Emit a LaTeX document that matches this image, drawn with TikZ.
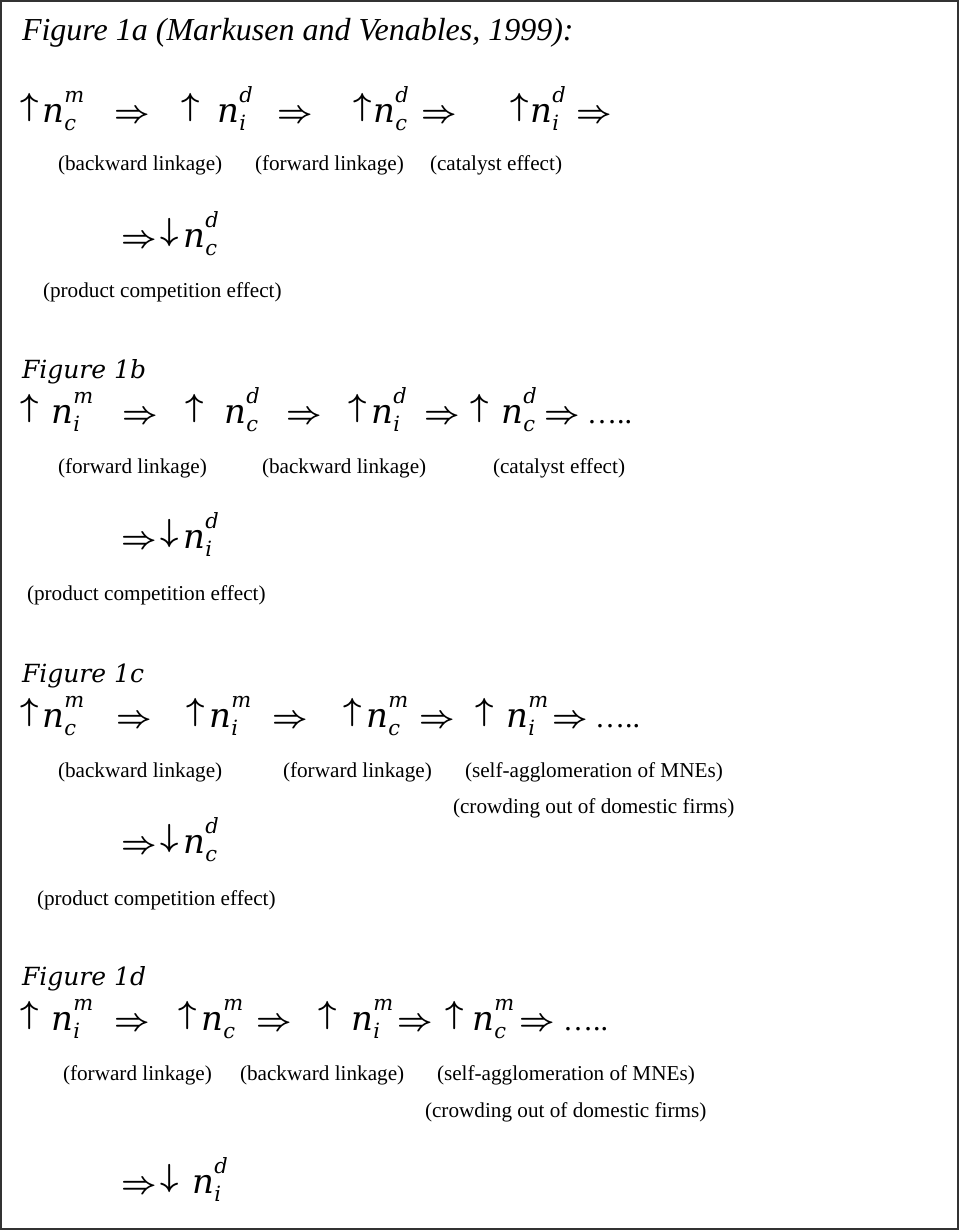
\documentclass[tikz,border=0pt]{standalone}
\usepackage{fontspec}
\usepackage{graphicx}
\setmainfont{Liberation Serif}
\newfontfamily\nfont{DejaVu Serif}
\tikzset{
  t/.style={anchor=base west,inner sep=0pt,outer sep=0pt},
  lab/.style={t,font=\fontsize{21.2bp}{24bp}\selectfont},
  heada/.style={t,font=\fontsize{32bp}{36bp}\selectfont\itshape},
  headb/.style={t,font=\fontsize{25bp}{30bp}\selectfont\nfont\itshape},
  frame/.style={line width=2bp,draw=black!80}
}
\newcommand\UA{\scalebox{3.2}{\raisebox{1.94pt}{\boldmath$\uparrow$}}}
\newcommand\DA{\scalebox{3.2}{\raisebox{1.94pt}{\boldmath$\downarrow$}}}
\newcommand\RA{\scalebox{3.1}{\boldmath$\Rightarrow$}}
\newcommand\SCR{\fontsize{21bp}{24bp}\selectfont\nfont\itshape}
\newcommand\NV[2]{{\fontsize{34bp}{36bp}\selectfont\nfont\itshape n}\kern0.5bp\rlap{\raisebox{-8bp}{\SCR #1}}\raisebox{20bp}{\SCR #2}}
\newcommand\DOTS{{\fontsize{30bp}{32bp}\selectfont …..}}
\newcommand\PlaceAt[4]{\node[t] (#1) at (#2,#3) {#4};}
\begin{document}
\begin{tikzpicture}[x=1bp,y=-1bp]
\useasboundingbox (0,0) rectangle (959,1230);
\draw[frame] (1,1) rectangle (957.5,1228.5);

% ---------- Figure 1a
\node[heada] (h1a) at (22,40) {Figure 1a (Markusen and Venables, 1999):};
\PlaceAt{a1}{20}{122}{\UA}
\PlaceAt{a2}{42}{122}{\NV{c}{m}}
\PlaceAt{a3}{114}{122}{\RA}
\PlaceAt{a4}{181}{122}{\UA}
\PlaceAt{a5}{217}{122}{\NV{i}{d}}
\PlaceAt{a6}{277}{122}{\RA}
\PlaceAt{a7}{353}{122}{\UA}
\PlaceAt{a8}{373}{122}{\NV{c}{d}}
\PlaceAt{a9}{421}{122}{\RA}
\PlaceAt{a10}{510}{122}{\UA}
\PlaceAt{a11}{530}{122}{\NV{i}{d}}
\PlaceAt{a12}{576}{122}{\RA}
\node[lab] (la1) at (58,170) {(backward linkage)};
\node[lab] (la2) at (255,170) {(forward linkage)};
\node[lab] (la3) at (430,170) {(catalyst effect)};
\PlaceAt{a13}{121}{247}{\RA}
\PlaceAt{a14}{160}{247}{\DA}
\PlaceAt{a15}{183}{247}{\NV{c}{d}}
\node[lab] (la4) at (43,297) {(product competition effect)};

% ---------- Figure 1b
\node[headb] (h1b) at (22,378) {Figure 1b};
\PlaceAt{b1}{20}{423}{\UA}
\PlaceAt{b2}{51}{423}{\NV{i}{m}}
\PlaceAt{b3}{122}{423}{\RA}
\PlaceAt{b4}{185}{423}{\UA}
\PlaceAt{b5}{224}{423}{\NV{c}{d}}
\PlaceAt{b6}{286}{423}{\RA}
\PlaceAt{b7}{348}{423}{\UA}
\PlaceAt{b8}{371}{423}{\NV{i}{d}}
\PlaceAt{b9}{424}{423}{\RA}
\PlaceAt{b10}{470}{423}{\UA}
\PlaceAt{b11}{501}{423}{\NV{c}{d}}
\PlaceAt{b12}{544}{423}{\RA}
\PlaceAt{b13}{587}{423}{\DOTS}
\node[lab] (lb1) at (58,473) {(forward linkage)};
\node[lab] (lb2) at (262,473) {(backward linkage)};
\node[lab] (lb3) at (493,473) {(catalyst effect)};
\PlaceAt{b14}{121}{548}{\RA}
\PlaceAt{b15}{160}{548}{\DA}
\PlaceAt{b16}{183}{548}{\NV{i}{d}}
\node[lab] (lb4) at (27,600) {(product competition effect)};

% ---------- Figure 1c
\node[headb] (h1c) at (22,682) {Figure 1c};
\PlaceAt{c1}{20}{727}{\UA}
\PlaceAt{c2}{42}{727}{\NV{c}{m}}
\PlaceAt{c3}{116}{727}{\RA}
\PlaceAt{c4}{186}{727}{\UA}
\PlaceAt{c5}{209}{727}{\NV{i}{m}}
\PlaceAt{c6}{272}{727}{\RA}
\PlaceAt{c7}{343}{727}{\UA}
\PlaceAt{c8}{366}{727}{\NV{c}{m}}
\PlaceAt{c9}{419}{727}{\RA}
\PlaceAt{c10}{475}{727}{\UA}
\PlaceAt{c11}{506}{727}{\NV{i}{m}}
\PlaceAt{c12}{552}{727}{\RA}
\PlaceAt{c13}{595}{727}{\DOTS}
\node[lab] (lc1) at (58,777) {(backward linkage)};
\node[lab] (lc2) at (283,777) {(forward linkage)};
\node[lab] (lc3) at (465,777) {(self-agglomeration of MNEs)};
\node[lab] (lc4) at (453,813) {(crowding out of domestic firms)};
\PlaceAt{c14}{121}{853}{\RA}
\PlaceAt{c15}{160}{853}{\DA}
\PlaceAt{c16}{183}{853}{\NV{c}{d}}
\node[lab] (lc5) at (37,905) {(product competition effect)};

% ---------- Figure 1d
\node[headb] (h1d) at (22,985) {Figure 1d};
\PlaceAt{d1}{20}{1030}{\UA}
\PlaceAt{d2}{51}{1030}{\NV{i}{m}}
\PlaceAt{d3}{114}{1030}{\RA}
\PlaceAt{d4}{178}{1030}{\UA}
\PlaceAt{d5}{201}{1030}{\NV{c}{m}}
\PlaceAt{d6}{256}{1030}{\RA}
\PlaceAt{d7}{318}{1030}{\UA}
\PlaceAt{d8}{351}{1030}{\NV{i}{m}}
\PlaceAt{d9}{397}{1030}{\RA}
\PlaceAt{d10}{445}{1030}{\UA}
\PlaceAt{d11}{472}{1030}{\NV{c}{m}}
\PlaceAt{d12}{519}{1030}{\RA}
\PlaceAt{d13}{563}{1030}{\DOTS}
\node[lab] (ld1) at (63,1080) {(forward linkage)};
\node[lab] (ld2) at (240,1080) {(backward linkage)};
\node[lab] (ld3) at (437,1080) {(self-agglomeration of MNEs)};
\node[lab] (ld4) at (425,1117) {(crowding out of domestic firms)};
\PlaceAt{d14}{121}{1193}{\RA}
\PlaceAt{d15}{160}{1193}{\DA}
\PlaceAt{d16}{192}{1193}{\NV{i}{d}}
\end{tikzpicture}
\end{document}
